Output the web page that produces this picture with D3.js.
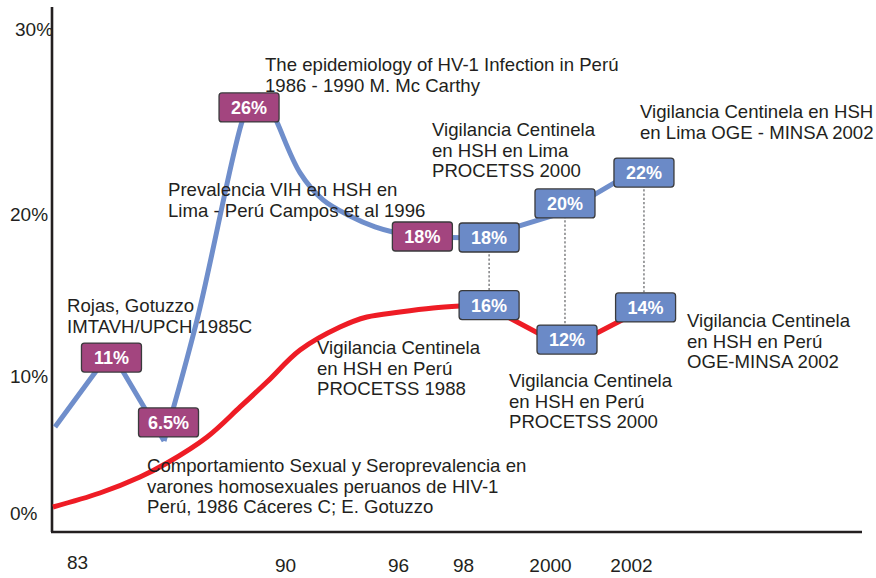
<!DOCTYPE html>
<html>
<head>
<meta charset="utf-8">
<script src="https://cdn.jsdelivr.net/npm/d3@7"></script>
<style>
  html, body { margin: 0; padding: 0; background: #ffffff; }
  svg { display: block; }
  text { font-family: "Liberation Sans", Arial, Helvetica, sans-serif; }
</style>
</head>
<body>
<svg id="chart" width="876" height="578"></svg>
<script>
// ---- data ----
const tickYears = [1983, 1990, 1996, 1998, 2000, 2002];
const tickYearLabels = ["83", "90", "96", "98", "2000", "2002"];
const tickValues = [0, 10, 20, 30];
const tickValueLabels = ["0%", "10%", "20%", "30%"];

// blue line: studies in Lima / Perú (HSH prevalence)
const blueYears  = [1982.26, 1984.14, 1985.93, 1987.04, 1988.55, 1988.89, 1989.36, 1989.73, 1990.80, 1992.02, 1993.45, 1994.78, 1995.73, 1996.74, 1998.39, 2000.37, 2002.22];
const blueValues = [6.28, 11.54, 5.26, 13.46, 24.97, 26.32, 26.32, 24.97, 22.22, 20.76, 19.88, 19.20, 18.89, 18.58, 18.52, 20.11, 22.49];

// red line: sentinel surveillance Perú
const redYears  = [1982.19, 1983.77, 1985.12, 1986.03, 1987.38, 1988.49, 1989.39, 1990.80, 1992.92, 1994.35, 1996.06, 1997.08, 1997.91, 1998.60, 2000.42, 2002.35];
const redValues = [0.44, 1.46, 2.63, 3.65, 5.55, 7.74, 9.56, 11.60, 13.02, 13.64, 13.95, 14.20, 14.32, 14.26, 11.70, 14.20];

// value boxes
const boxLabels = ["26%", "11%", "6.5%", "18%", "18%", "16%", "20%", "12%", "22%", "14%"];
const boxYears  = [1988.79, 1984.16, 1986.08, 1996.75, 1998.60, 1998.60, 2000.37, 2000.42, 2002.32, 2002.36];
const boxValues = [25.76, 11.14, 6.61, 18.61, 18.55, 14.38, 20.57, 12.25, 22.24, 14.23];
const boxKinds  = ["study", "study", "study", "study", "sentinel", "sentinel", "sentinel", "sentinel", "sentinel", "sentinel"];

// dotted connectors between boxes (indices into box arrays)
const connectFrom = [4, 6, 8];
const connectTo   = [5, 7, 9];

// annotations
const notes = [
  ["The epidemiology of HV-1 Infection in Perú", "1986 - 1990 M. Mc Carthy"],
  ["Vigilancia Centinela en HSH", "en Lima OGE - MINSA 2002"],
  ["Vigilancia Centinela", "en HSH en Lima", "PROCETSS 2000"],
  ["Prevalencia VIH en HSH en", "Lima - Perú Campos et al 1996"],
  ["Rojas, Gotuzzo", "IMTAVH/UPCH 1985C"],
  ["Vigilancia Centinela", "en HSH en Perú", "PROCETSS 1988"],
  ["Vigilancia Centinela", "en HSH en Perú", "PROCETSS 2000"],
  ["Vigilancia Centinela", "en HSH en Perú", "OGE-MINSA 2002"],
  ["Comportamiento Sexual y Seroprevalencia en", "varones homosexuales peruanos de HIV-1", "Perú, 1986 Cáceres C; E. Gotuzzo"]
];

// ---- layout ----
const notePos = [[265, 71], [640, 118], [432, 136], [168, 196], [67, 312], [317, 354], [509, 387], [687, 327], [147, 472]];
const lineGap = 20.5;
const colors = { blue: "#6f8ecb", red: "#ee1c25", study: "#a3457f", sentinel: "#6b8ac7", ink: "#231f20" };

const svg = d3.select("#chart");
const x = d3.scaleLinear().domain(tickYears).range([77, 285, 398, 463, 550, 631]);
const y = d3.scaleLinear().domain(tickValues).range([513, 376, 214, 29]);

// axes lines
svg.append("line").attr("x1", 52).attr("x2", 52).attr("y1", 7).attr("y2", 532)
  .attr("stroke", colors.ink).attr("stroke-width", 2.6);
svg.append("line").attr("x1", 51).attr("x2", 862).attr("y1", 532).attr("y2", 532)
  .attr("stroke", colors.ink).attr("stroke-width", 2.6);

// x tick labels via d3 axis
const xAxis = d3.axisBottom(x).tickValues(tickYears).tickSize(0)
  .tickFormat((d, i) => tickYearLabels[i]);
const gx = svg.append("g").attr("transform", "translate(0,556)").call(xAxis);
gx.select(".domain").remove();
gx.selectAll("text").attr("font-size", 19).attr("fill", colors.ink)
  .attr("font-family", "'Liberation Sans', Arial, sans-serif")
  .attr("dy", (d, i) => i === 0 ? "0.55em" : "0.7em");

// y tick labels
svg.append("g").selectAll("text").data(tickValues).join("text")
  .attr("x", (d, i) => i === 3 ? 15 : 10)
  .attr("y", d => y(d) + 7)
  .attr("font-size", 19).attr("fill", colors.ink)
  .text((d, i) => tickValueLabels[i]);

// lines
const pts = (xs, vs) => xs.map((d, i) => [x(d), y(vs[i])]);
const bluePts = pts(blueYears, blueValues);
const redPts = pts(redYears, redValues);
function seg(points, from, to, curve, color) {
  const gen = d3.line().curve(curve);
  svg.append("path").attr("d", gen(points.slice(from, to + 1)))
    .attr("fill", "none").attr("stroke", color).attr("stroke-width", 5)
    .attr("stroke-linejoin", "round");
}
seg(redPts, 0, 12, d3.curveCatmullRom.alpha(0.5), colors.red);
seg(redPts, 12, redPts.length - 1, d3.curveLinear, colors.red);
seg(bluePts, 0, 2, d3.curveLinear, colors.blue);
seg(bluePts, 2, 13, d3.curveCatmullRom.alpha(0.5), colors.blue);
seg(bluePts, 13, bluePts.length - 1, d3.curveLinear, colors.blue);

// dotted connectors
svg.append("g").selectAll("line").data(connectFrom).join("line")
  .attr("x1", d => x(boxYears[d])).attr("x2", d => x(boxYears[d]))
  .attr("y1", d => y(boxValues[d]))
  .attr("y2", (d, i) => y(boxValues[connectTo[i]]))
  .attr("stroke", "#6d6e71").attr("stroke-width", 1.3).attr("stroke-dasharray", "2.2,2");

// boxes
const bw = 60, bh = 29;
const bg = svg.append("g").selectAll("g").data(boxLabels).join("g")
  .attr("transform", (d, i) => `translate(${x(boxYears[i])},${y(boxValues[i])})`);
bg.append("rect").attr("x", -bw / 2).attr("y", -bh / 2).attr("width", bw).attr("height", bh)
  .attr("rx", 3).attr("fill", (d, i) => colors[boxKinds[i]])
  .attr("stroke", "#3a3a3c").attr("stroke-width", 1.3);
bg.append("text").attr("text-anchor", "middle").attr("dy", "0.36em")
  .attr("font-size", 18).attr("font-weight", "bold").attr("fill", "#ffffff")
  .text(d => d);

// annotations
const ng = svg.append("g").selectAll("text").data(notes).join("text")
  .attr("x", (d, i) => notePos[i][0]).attr("y", (d, i) => notePos[i][1])
  .attr("font-size", 18.6).attr("fill", colors.ink);
ng.selectAll("tspan").data(d => d).join("tspan")
  .attr("x", function () { return d3.select(this.parentNode).attr("x"); })
  .attr("dy", (d, i) => i === 0 ? 0 : lineGap)
  .text(d => d);
</script>
</body>
</html>
